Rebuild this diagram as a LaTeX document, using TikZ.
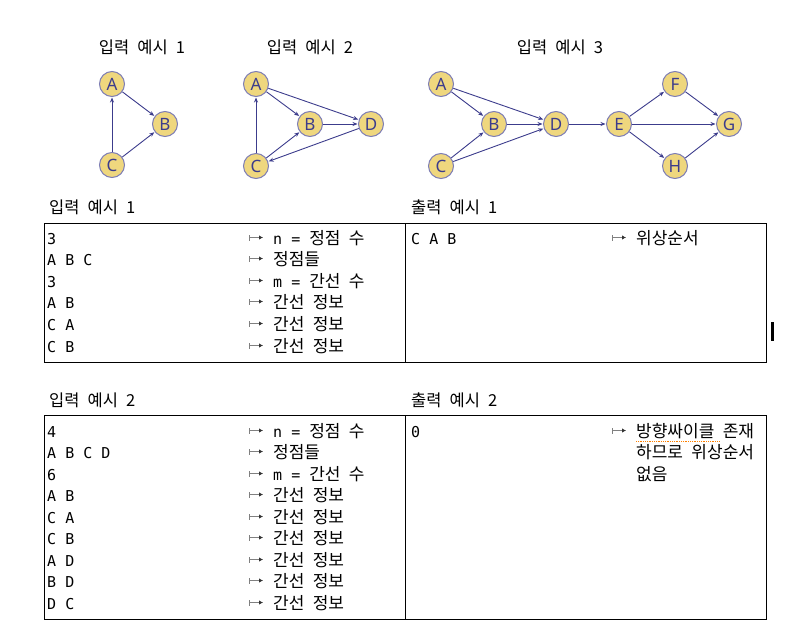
\documentclass[tikz,border=0pt]{standalone}
\usepackage{fontspec}
\setmainfont[WordSpace=2.2]{Noto Sans CJK KR}
\setmonofont{DejaVu Sans Mono}
\newfontfamily\nodefont{Noto Sans}
\usetikzlibrary{arrows.meta}
\definecolor{vfill}{RGB}{239,215,126}
\definecolor{vline}{RGB}{125,125,181}
\definecolor{edgeblue}{RGB}{60,60,140}
\tikzset{
  vertex/.style={circle, draw=vline, fill=vfill, line width=1pt, minimum size=25pt,
    inner sep=0pt, text=edgeblue, font=\nodefont\fontsize{17}{17}\selectfont},
  edge/.style={-{Stealth[length=5pt,width=4pt]}, edgeblue, line width=0.9pt, shorten >=0.5pt},
  title/.style={font=\fontsize{16.5}{16.5}\selectfont},
  cell/.style={anchor=base west, inner sep=0pt, font=\fontsize{17}{17}\selectfont},
  code/.style={cell, font=\ttfamily\fontsize{15}{15}\selectfont},
  mapsto/.style={{Bar[width=6pt,line width=0.8pt]}-{Latex[length=4pt,width=4.5pt,black!80]}, gray, line width=0.8pt},
  frame/.style={draw=black, line width=1pt}
}
\newcommand{\mono}[1]{{\ttfamily\fontsize{15}{15}\selectfont #1}}
\begin{document}
\begin{tikzpicture}[x=1pt, y=-1pt]
  \useasboundingbox (0,0) rectangle (805,634);

  % graph titles
  \node[title] (t1) at (142,47) {입력 예시 1};
  \node[title] (t2) at (310,47) {입력 예시 2};
  \node[title] (t3) at (560,47) {입력 예시 3};

  % example 1
  \node[vertex] (a1) at (112,84) {A};
  \node[vertex] (b1) at (165,124) {B};
  \node[vertex] (c1) at (112,165) {C};
  \draw[edge] (a1) -- (b1);
  \draw[edge] (c1) -- (a1);
  \draw[edge] (c1) -- (b1);

  % example 2
  \node[vertex] (a2) at (256,84) {A};
  \node[vertex] (b2) at (310,124) {B};
  \node[vertex] (d2) at (371,124) {D};
  \node[vertex] (c2) at (256,166) {C};
  \draw[edge] (a2) -- (b2);
  \draw[edge] (a2) -- (d2);
  \draw[edge] (b2) -- (d2);
  \draw[edge] (c2) -- (a2);
  \draw[edge] (c2) -- (b2);
  \draw[edge] (d2) -- (c2);

  % example 3
  \node[vertex] (a3) at (441,84) {A};
  \node[vertex] (b3) at (494,124) {B};
  \node[vertex] (c3) at (441,166) {C};
  \node[vertex] (d3) at (556,124) {D};
  \node[vertex] (e3) at (619,124) {E};
  \node[vertex] (f3) at (675,84) {F};
  \node[vertex] (g3) at (729,124) {G};
  \node[vertex] (h3) at (675,166) {H};
  \foreach \s/\t in {a3/b3, a3/d3, b3/d3, c3/b3, c3/d3, d3/e3, e3/f3, e3/g3, e3/h3, f3/g3, h3/g3}
    \draw[edge] (\s) -- (\t);

  % table 1
  \node[title, anchor=base west, inner sep=0pt] (in1) at (49,213) {입력 예시 1};
  \node[title, anchor=base west, inner sep=0pt] (out1) at (411,213) {출력 예시 1};
  \draw[frame] (44,223) rectangle (766,362);
  \draw[frame] (405,223) -- (405,362);
  \foreach \y/\l/\r [count=\i] in {244/3/\mono{n = }정점 수, 265/A B C/정점들, 287/3/\mono{m = }간선 수,
      308/A B/간선 정보, 330/C A/간선 정보, 352/C B/간선 정보} {
    \node[code] (p\i) at (47,\y) {\l};
    \draw[mapsto] (248.5,\y-6.5) -- (263,\y-6.5);
    \node[cell] (pr\i) at (273,\y) {\r};
  }
  \node[code] (o1) at (411,244) {C A B};
  \draw[mapsto] (611.5,237.5) -- (626,237.5);
  \node[cell] (or1) at (636,244) {위상순서};
  \fill (771,322) rectangle (774,341);

  % table 2
  \node[title, anchor=base west, inner sep=0pt] (in2) at (49,406) {입력 예시 2};
  \node[title, anchor=base west, inner sep=0pt] (out2) at (411,406) {출력 예시 2};
  \draw[frame] (44,415) rectangle (766,619);
  \draw[frame] (405,415) -- (405,619);
  \foreach \y/\l/\r [count=\i] in {437/4/\mono{n = }정점 수, 458/A B C D/정점들, 480/6/\mono{m = }간선 수,
      501/A B/간선 정보, 523/C A/간선 정보, 544/C B/간선 정보, 566/A D/간선 정보,
      587/B D/간선 정보, 609/D C/간선 정보} {
    \node[code] (q\i) at (47,\y) {\l};
    \draw[mapsto] (248.5,\y-6.5) -- (263,\y-6.5);
    \node[cell] (qr\i) at (273,\y) {\r};
  }
  \node[code] (o2) at (411,437) {0};
  \draw[mapsto] (611.5,430.5) -- (626,430.5);
  \node[cell] (or2) at (636,437) {방향싸이클 존재};
  \node[cell] (or3) at (636,458) {하므로 위상순서};
  \node[cell] (or4) at (636,480) {없음};
  \draw[orange, densely dotted, line width=0.8pt] (636,441) -- (720,441);
\end{tikzpicture}
\end{document}
